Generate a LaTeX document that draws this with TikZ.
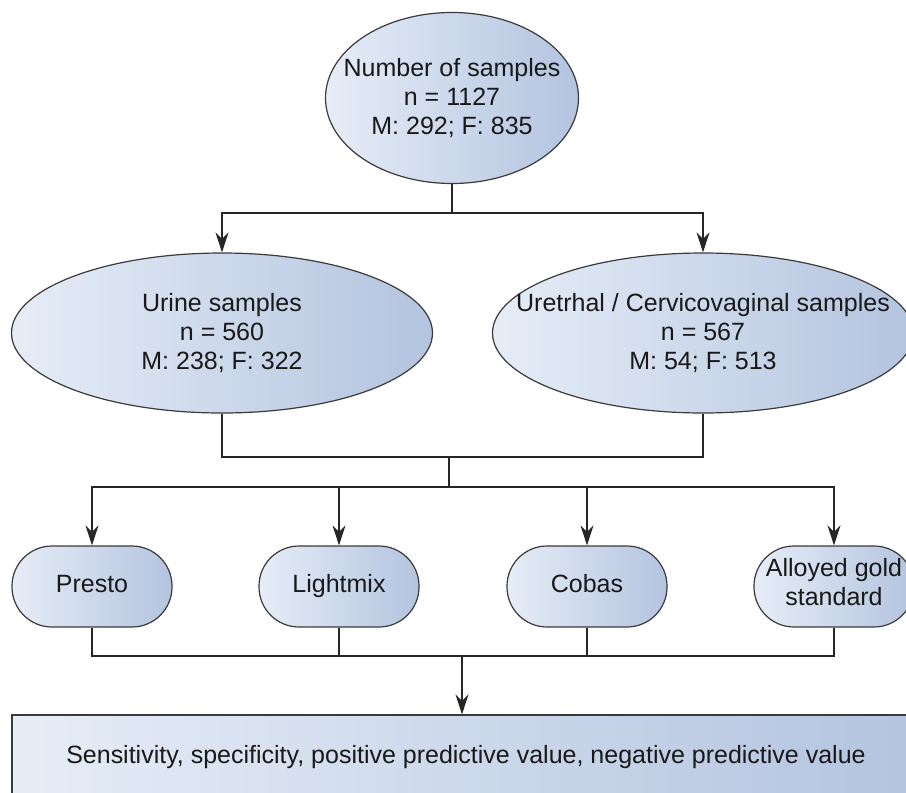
\documentclass[tikz,border=0pt]{standalone}
\usepackage{fontspec}
\setmainfont{Liberation Sans}
\usetikzlibrary{shapes.geometric,arrows.meta}
\definecolor{lightblue}{HTML}{E6EDF7}
\definecolor{darkblue}{HTML}{B3C4DF}
\definecolor{rim}{HTML}{3A3A3A}
\begin{document}
\begin{tikzpicture}[x=1pt, y=-1pt, >={Stealth[length=20pt,width=13pt]},
    every node/.style={font=\fontsize{25}{29}\selectfont, align=center, text=black!90},
    oval/.style={ellipse, draw=rim, line width=1.2pt, left color=lightblue, right color=darkblue, inner xsep=-45pt},
    pill/.style={rectangle, rounded corners=40pt, draw=rim, line width=1.2pt, left color=lightblue, right color=darkblue, inner xsep=0pt, minimum width=160pt, minimum height=81pt,
        execute at begin node=\strut, execute at end node=\strut},
    wire/.style={line width=1.3pt, black!85}]
\useasboundingbox (0,0) rectangle (906,793);
\clip (0,0) rectangle (906,793);

\node[oval, minimum width=253pt, minimum height=171pt](total) at (452,98){Number of samples\\n = 1127\\M: 292; F: 835};
\node[oval, minimum width=421pt, minimum height=160pt](urine) at (222,333){Urine samples\\n = 560\\M: 238; F: 322};
\node[oval, minimum width=421pt, minimum height=160pt](swab) at (703,333){Uretrhal / Cervicovaginal samples\\n = 567\\M: 54; F: 513};

\node[pill](presto) at (92,586.5){Presto};
\node[pill](lightmix) at (339,586.5){Lightmix};
\node[pill](cobas) at (587,586.5){Cobas};
\node[pill](gold) at (834,586.5){Alloyed gold\\standard};

\node[rectangle, draw=rim, line width=1.2pt, left color=lightblue, right color=darkblue, minimum width=908pt, minimum height=84pt](result) at (466,757){Sensitivity, specificity, positive predictive value, negative predictive value};

\coordinate (split) at (452,213);
\coordinate (join) at (449,457);
\coordinate (fork) at (449,487);
\coordinate (gather) at (462,656);

\draw[wire](total)--(split);
\draw[wire,->](split)-|(urine);
\draw[wire,->](split)-|(swab);

\draw[wire](urine)|-(join)-|(swab);
\draw[wire](join)--(fork);
\foreach \b in {presto,lightmix,cobas,gold}
    \draw[wire,->](fork)-|(\b);

\foreach \b in {presto,lightmix,cobas,gold}
    \draw[wire](\b)|-(gather);
\draw[wire,->](gather)--(gather|-result.north);

\end{tikzpicture}
\end{document}
